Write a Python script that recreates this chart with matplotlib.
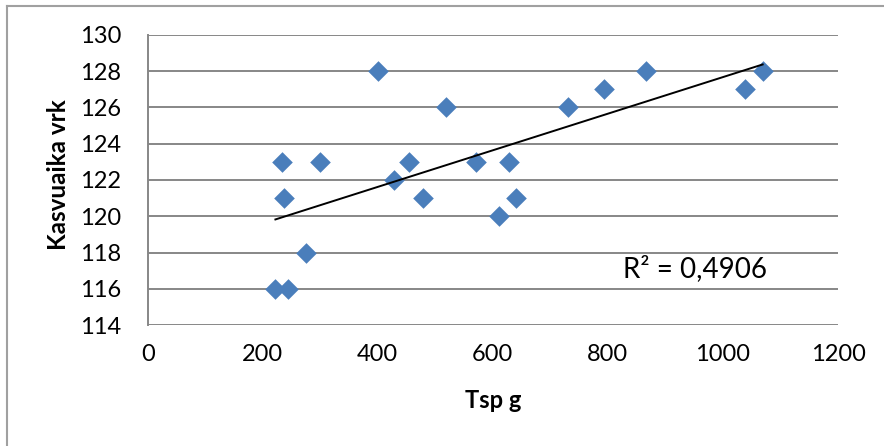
import numpy as np
import matplotlib
matplotlib.use("Agg")
import matplotlib.pyplot as plt
from matplotlib.lines import Line2D

# Data
tsp_g = [222, 244, 275, 237, 233, 300, 401, 518, 428, 454, 478,
         571, 610, 628, 640, 730, 793, 867, 1039, 1069]
kasvuaika_vrk = [116, 116, 118, 121, 123, 123, 128, 126, 122, 123, 121,
                 123, 120, 123, 121, 126, 127, 128, 127, 128]
x_ticks = [0, 200, 400, 600, 800, 1000, 1200]
y_ticks = [114, 116, 118, 120, 122, 124, 126, 128, 130]
r2_text = "R² = 0,4906"
x_label = "Tsp g"
y_label = "Kasvuaika vrk"

W, H = 884, 446
fig = plt.figure(figsize=(W / 100, H / 100), dpi=100)
left, right, top, bottom = 147.7, 838.0, 34.7, 325.3
ax = fig.add_axes([left / W, 1 - bottom / H, (right - left) / W, (bottom - top) / H])

font = "Lato"
grid_c = "#878787"

x = np.array(tsp_g, dtype=float)
y = np.array(kasvuaika_vrk, dtype=float)
ax.scatter(x, y, marker="D", s=10.5 ** 2, color="#4a7ebb", linewidths=0, zorder=3)

k, b = np.polyfit(x, y, 1)
xs = np.array([x.min(), x.max()])
ax.plot(xs, k * xs + b, color="black", lw=1.4, zorder=4)

ax.set_xlim(0, 1200)
ax.set_ylim(114, 130)
ax.set_xticks(x_ticks)
ax.set_yticks(y_ticks)
ax.set_xticklabels([str(t) for t in x_ticks], fontfamily=font, fontsize=17)
ax.set_yticklabels([str(t) for t in y_ticks], fontfamily=font, fontsize=17)
ax.tick_params(axis="x", length=0, pad=13.5)
ax.tick_params(axis="y", length=0, pad=19)
ax.yaxis.grid(True, color=grid_c, lw=1.4)
ax.set_axisbelow(True)
for s in ["top", "right", "bottom"]:
    ax.spines[s].set_visible(False)
ax.spines["left"].set_color(grid_c)
ax.spines["left"].set_linewidth(1.4)

ax.text(826, 116.67, r2_text, fontfamily=font, fontsize=20, va="baseline", ha="left")

ax.set_xlabel(x_label, fontfamily=font, fontsize=17, fontweight="bold", va="baseline")
ax.xaxis.set_label_coords(0.5, (bottom - 408) / (bottom - top))
ax.set_ylabel(y_label, fontfamily=font, fontsize=17.5, fontweight="bold", va="center", ha="center")
ax.yaxis.set_label_coords((58 - left) / (right - left), (bottom - 175) / (bottom - top))

# chart border
bx, by = 7.5 / W, 1 - 5.5 / H
fig.add_artist(Line2D([bx, bx], [0, by], color="#a0a0a0", lw=1.5, transform=fig.transFigure))
fig.add_artist(Line2D([bx, 1], [by, by], color="#a0a0a0", lw=1.5, transform=fig.transFigure))

fig.savefig("out.png", dpi=100)
